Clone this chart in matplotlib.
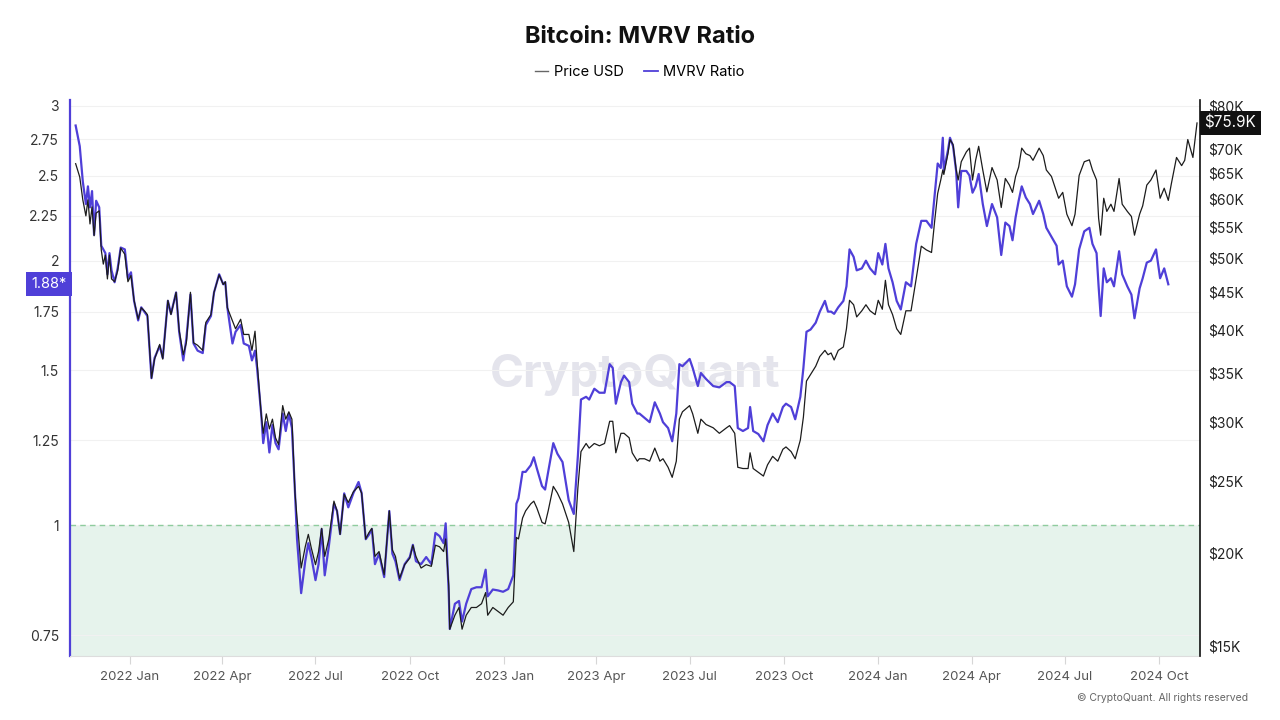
# -*- coding: utf-8 -*-

# Import required libraries
import matplotlib
matplotlib.use('Agg')
import matplotlib.pyplot as plt
import matplotlib.dates as mdates
from matplotlib.lines import Line2D
from matplotlib.ticker import NullLocator
import pandas as pd

# Parameters for the figure
plt.rcParams['font.family'] = ['Inter', 'DejaVu Sans']
plt.rcParams['axes.unicode_minus'] = False

# Colors
purple = '#4f3fd8'
black = '#1c1c1c'

# Data (MVRV stops earlier than price)
dates = [
    '2021-11-09', '2021-11-13', '2021-11-16', '2021-11-19', '2021-11-21', '2021-11-23',
    '2021-11-25', '2021-11-27', '2021-11-29', '2021-12-02', '2021-12-04', '2021-12-06',
    '2021-12-08', '2021-12-10', '2021-12-12', '2021-12-14', '2021-12-17', '2021-12-20',
    '2021-12-23', '2021-12-27', '2021-12-30', '2022-01-02', '2022-01-05', '2022-01-09',
    '2022-01-12', '2022-01-15', '2022-01-18', '2022-01-22', '2022-01-25', '2022-01-30',
    '2022-02-02', '2022-02-07', '2022-02-10', '2022-02-15', '2022-02-18', '2022-02-22',
    '2022-02-25', '2022-03-01', '2022-03-04', '2022-03-08', '2022-03-13', '2022-03-16',
    '2022-03-21', '2022-03-24', '2022-03-29', '2022-04-02', '2022-04-04', '2022-04-06',
    '2022-04-11', '2022-04-14', '2022-04-19', '2022-04-22', '2022-04-27', '2022-04-30',
    '2022-05-03', '2022-05-05', '2022-05-09', '2022-05-11', '2022-05-14', '2022-05-17',
    '2022-05-20', '2022-05-23', '2022-05-26', '2022-05-30', '2022-06-02', '2022-06-05',
    '2022-06-08', '2022-06-11', '2022-06-13', '2022-06-17', '2022-06-21', '2022-06-24',
    '2022-06-27', '2022-07-01', '2022-07-04', '2022-07-07', '2022-07-10', '2022-07-14',
    '2022-07-19', '2022-07-22', '2022-07-25', '2022-07-29', '2022-08-02', '2022-08-07',
    '2022-08-12', '2022-08-15', '2022-08-19', '2022-08-22', '2022-08-25', '2022-08-28',
    '2022-09-01', '2022-09-06', '2022-09-11', '2022-09-14', '2022-09-17', '2022-09-21',
    '2022-09-26', '2022-10-01', '2022-10-04', '2022-10-07', '2022-10-12', '2022-10-17',
    '2022-10-22', '2022-10-26', '2022-10-30', '2022-11-03', '2022-11-05', '2022-11-08',
    '2022-11-09', '2022-11-14', '2022-11-18', '2022-11-21', '2022-11-25', '2022-11-30',
    '2022-12-05', '2022-12-10', '2022-12-14', '2022-12-16', '2022-12-21', '2022-12-26',
    '2022-12-31', '2023-01-05', '2023-01-10', '2023-01-13', '2023-01-15', '2023-01-19',
    '2023-01-22', '2023-01-27', '2023-01-30', '2023-02-02', '2023-02-07', '2023-02-10',
    '2023-02-13', '2023-02-18', '2023-02-22', '2023-02-27', '2023-03-05', '2023-03-10',
    '2023-03-14', '2023-03-17', '2023-03-22', '2023-03-25', '2023-03-30', '2023-04-04',
    '2023-04-09', '2023-04-14', '2023-04-17', '2023-04-20', '2023-04-25', '2023-04-28',
    '2023-05-03', '2023-05-06', '2023-05-11', '2023-05-13', '2023-05-18', '2023-05-23',
    '2023-05-28', '2023-06-02', '2023-06-05', '2023-06-10', '2023-06-14', '2023-06-18',
    '2023-06-21', '2023-06-24', '2023-07-01', '2023-07-04', '2023-07-09', '2023-07-12',
    '2023-07-17', '2023-07-24', '2023-07-30', '2023-08-06', '2023-08-09', '2023-08-14',
    '2023-08-17', '2023-08-22', '2023-08-27', '2023-08-29', '2023-09-01', '2023-09-06',
    '2023-09-11', '2023-09-15', '2023-09-20', '2023-09-25', '2023-09-30', '2023-10-03',
    '2023-10-08', '2023-10-12', '2023-10-17', '2023-10-20', '2023-10-23', '2023-10-27',
    '2023-11-01', '2023-11-05', '2023-11-10', '2023-11-13', '2023-11-16', '2023-11-19',
    '2023-11-23', '2023-11-28', '2023-12-01', '2023-12-04', '2023-12-08', '2023-12-11',
    '2023-12-16', '2023-12-20', '2023-12-24', '2023-12-29', '2024-01-01', '2024-01-05',
    '2024-01-08', '2024-01-11', '2024-01-15', '2024-01-19', '2024-01-23', '2024-01-28',
    '2024-02-02', '2024-02-07', '2024-02-12', '2024-02-17', '2024-02-22', '2024-02-25',
    '2024-02-28', '2024-03-02', '2024-03-04', '2024-03-05', '2024-03-09', '2024-03-11',
    '2024-03-14', '2024-03-17', '2024-03-19', '2024-03-22', '2024-03-27', '2024-03-30',
    '2024-04-02', '2024-04-05', '2024-04-08', '2024-04-12', '2024-04-16', '2024-04-21',
    '2024-04-26', '2024-04-30', '2024-05-04', '2024-05-08', '2024-05-11', '2024-05-14',
    '2024-05-17', '2024-05-20', '2024-05-24', '2024-05-28', '2024-05-31', '2024-06-06',
    '2024-06-10', '2024-06-13', '2024-06-18', '2024-06-23', '2024-06-25', '2024-06-29',
    '2024-07-03', '2024-07-08', '2024-07-11', '2024-07-15', '2024-07-20', '2024-07-25',
    '2024-07-28', '2024-08-01', '2024-08-03', '2024-08-05', '2024-08-08', '2024-08-11',
    '2024-08-15', '2024-08-18', '2024-08-23', '2024-08-26', '2024-08-31', '2024-09-04',
    '2024-09-07', '2024-09-12', '2024-09-15', '2024-09-19', '2024-09-23', '2024-09-28',
    '2024-10-02', '2024-10-06', '2024-10-10', '2024-10-13', '2024-10-18', '2024-10-23',
    '2024-10-26', '2024-10-29', '2024-11-03', '2024-11-07',
]

mvrv = [
    2.85, 2.70, 2.46, 2.32, 2.43, 2.30, 2.40, 2.14, 2.34, 2.30, 2.08, 2.06,
    2.04, 1.93, 2.04, 1.95, 1.89, 1.96, 2.07, 2.06, 1.91, 1.94, 1.80, 1.71,
    1.77, 1.75, 1.73, 1.47, 1.55, 1.60, 1.55, 1.80, 1.74, 1.84, 1.66, 1.54,
    1.63, 1.83, 1.61, 1.58, 1.57, 1.69, 1.73, 1.84, 1.93, 1.88, 1.89, 1.77,
    1.61, 1.66, 1.69, 1.61, 1.60, 1.54, 1.58, 1.51, 1.34, 1.24, 1.31, 1.21,
    1.30, 1.24, 1.22, 1.34, 1.28, 1.34, 1.29, 1.09, 0.964, 0.837, 0.91, 0.954,
    0.92, 0.866, 0.903, 0.99, 0.877, 0.946, 1.058, 1.038, 0.977, 1.087, 1.048, 1.088,
    1.12, 1.088, 0.964, 0.975, 0.99, 0.903, 0.928, 0.873, 1.038, 0.928, 0.91, 0.866,
    0.903, 0.92, 0.95, 0.91, 0.903, 0.92, 0.903, 0.98, 0.972, 0.954, 1.005, 0.837,
    0.762, 0.814, 0.82, 0.777, 0.814, 0.846, 0.85, 0.85, 0.89, 0.83, 0.845, 0.843,
    0.84, 0.846, 0.877, 1.058, 1.073, 1.15, 1.15, 1.17, 1.195, 1.16, 1.108, 1.098,
    1.15, 1.24, 1.206, 1.18, 1.068, 1.03, 1.20, 1.39, 1.40, 1.39, 1.43, 1.415,
    1.415, 1.525, 1.51, 1.375, 1.455, 1.48, 1.455, 1.375, 1.34, 1.34, 1.325, 1.31,
    1.38, 1.34, 1.31, 1.29, 1.246, 1.34, 1.525, 1.517, 1.546, 1.51, 1.44, 1.49,
    1.467, 1.44, 1.435, 1.455, 1.455, 1.44, 1.29, 1.28, 1.29, 1.363, 1.28, 1.27,
    1.246, 1.30, 1.34, 1.31, 1.363, 1.375, 1.363, 1.32, 1.40, 1.51, 1.66, 1.67,
    1.70, 1.75, 1.80, 1.75, 1.75, 1.74, 1.77, 1.80, 1.87, 2.06, 2.02, 1.95,
    1.96, 2.00, 1.96, 1.93, 2.04, 1.98, 2.09, 1.96, 1.89, 1.80, 1.76, 1.89,
    1.87, 2.09, 2.22, 2.22, 2.18, 2.37, 2.58, 2.55, 2.76, 2.53, 2.67, 2.76,
    2.70, 2.53, 2.30, 2.53, 2.53, 2.50, 2.39, 2.43, 2.51, 2.32, 2.19, 2.32,
    2.24, 2.03, 2.21, 2.19, 2.11, 2.24, 2.34, 2.43, 2.36, 2.32, 2.26, 2.34,
    2.26, 2.18, 2.13, 2.08, 1.98, 2.00, 1.87, 1.82, 1.88, 2.06, 2.16, 2.18,
    2.09, 2.04, 1.87, 1.73, 1.96, 1.89, 1.91, 1.87, 2.05, 1.93, 1.87, 1.83,
    1.72, 1.86, 1.91, 1.99, 2.00, 2.06, 1.91, 1.96, 1.88,
]

# Price in thousands of USD
price_k = [
    66.9, 64.2, 59.8, 56.9, 59.8, 55.5, 58.5, 53.5, 57.4, 57.8, 51.2, 49.0,
    50.4, 46.8, 50.4, 46.8, 46.4, 48.0, 51.5, 50.5, 46.4, 47.3, 43.8, 41.3,
    42.8, 42.4, 41.9, 34.4, 36.5, 38.2, 36.5, 43.8, 41.9, 44.9, 39.9, 37.0,
    38.4, 44.9, 38.4, 38.1, 37.5, 40.9, 41.9, 44.9, 47.4, 46.0, 46.4, 42.8,
    41.1, 40.1, 41.3, 39.4, 39.4, 37.5, 39.8, 36.2, 30.8, 29.0, 30.8, 29.4,
    30.3, 28.6, 28.0, 31.6, 30.3, 31.0, 30.3, 24.1, 22.3, 19.1, 20.4, 21.2,
    20.3, 19.3, 20.1, 21.6, 19.8, 20.9, 23.5, 22.8, 21.2, 24.0, 23.4, 24.2,
    24.6, 24.1, 20.9, 21.3, 21.6, 19.8, 20.1, 18.7, 22.8, 20.2, 19.8, 18.5,
    19.3, 19.7, 20.5, 19.8, 19.1, 19.3, 19.2, 20.5, 20.4, 20.1, 20.9, 18.1,
    15.8, 16.5, 16.9, 15.8, 16.5, 16.9, 16.9, 17.1, 17.7, 16.5, 16.9, 16.7,
    16.5, 16.9, 17.2, 21.0, 20.9, 22.3, 22.8, 23.3, 23.5, 23.0, 22.0, 21.9,
    22.8, 24.6, 24.1, 23.3, 22.0, 20.1, 24.5, 27.4, 28.1, 27.7, 28.1, 27.9,
    28.1, 30.1, 30.1, 27.3, 29.0, 29.0, 28.6, 27.3, 26.6, 26.8, 26.8, 26.6,
    27.7, 26.6, 26.8, 26.1, 25.3, 26.6, 30.3, 31.0, 31.6, 30.8, 29.0, 30.3,
    29.8, 29.5, 29.0, 29.5, 29.7, 29.0, 26.1, 26.0, 26.0, 27.3, 26.0, 25.7,
    25.4, 26.3, 27.0, 26.6, 27.6, 27.8, 27.4, 26.8, 28.4, 30.5, 34.1, 34.8,
    35.7, 36.8, 37.5, 37.0, 37.2, 36.4, 37.5, 37.9, 40.1, 43.8, 43.2, 41.6,
    42.4, 43.2, 42.4, 41.9, 43.8, 42.6, 46.6, 43.2, 41.9, 40.1, 39.4, 42.4,
    42.4, 46.8, 51.8, 51.2, 50.8, 55.9, 61.0, 63.6, 65.6, 64.7, 69.0, 72.1,
    71.0, 65.7, 63.6, 67.3, 69.4, 70.2, 63.6, 67.6, 70.6, 65.6, 61.3, 66.1,
    63.6, 58.4, 63.9, 62.6, 61.2, 64.3, 66.2, 70.2, 69.0, 68.6, 67.6, 70.2,
    68.6, 65.6, 64.3, 61.3, 60.1, 61.2, 57.2, 55.2, 57.2, 64.5, 67.3, 67.7,
    65.6, 63.6, 56.5, 53.6, 60.1, 57.7, 59.0, 57.7, 63.9, 59.0, 57.7, 56.8,
    53.6, 57.2, 58.7, 62.6, 63.6, 65.6, 60.1, 62.0, 59.7, 62.9, 68.2, 66.5,
    67.6, 72.1, 68.2, 75.9,
]

# Axis ticks
mvrv_ticks = [0.75, 1, 1.25, 1.5, 1.75, 2, 2.25, 2.5, 2.75, 3]
mvrv_tick_labels = ['0.75', '1', '1.25', '1.5', '1.75', '2', '2.25', '2.5', '2.75', '3']
price_ticks = [15, 20, 25, 30, 35, 40, 45, 50, 55, 60, 65, 70, 80]
price_tick_labels = ['$%dK' % t for t in price_ticks]

dates = pd.to_datetime(dates)

fig = plt.figure(figsize=(12.8, 7.2), dpi=100)
ax = fig.add_axes([70 / 1280, 64 / 720, 1130 / 1280, 556 / 720])

# Left axis: MVRV (log scale)
ax.set_yscale('log')
ax.set_ylim(0.7099, 3.047)
ax.set_xlim(pd.Timestamp('2021-11-03 12:00'), pd.Timestamp('2024-11-09 22:00'))
ax.axhspan(0.7099, 1.0, color='#e6f3ec', zorder=0, lw=0)
ax.axhline(1.0, color='#8fcc9e', ls=(0, (4, 3)), lw=1.0, zorder=1)
ax.plot(dates[:len(mvrv)], mvrv, color=purple, lw=1.6, zorder=3)

ax.set_yticks(mvrv_ticks, mvrv_tick_labels)
ax.yaxis.set_minor_locator(NullLocator())
ax.tick_params(axis='y', length=0, pad=8, labelsize=10, labelcolor='#333333')
ax.grid(axis='y', color='#f1f1f1', lw=0.8)
ax.set_axisbelow(True)

ax.xaxis.set_major_locator(mdates.MonthLocator(bymonth=[1, 4, 7, 10]))
ax.xaxis.set_major_formatter(mdates.DateFormatter('%Y %b'))
ax.tick_params(axis='x', length=6, color='#d6d6d6', pad=5, labelsize=9.5,
               labelcolor='#555555')

ax.spines['top'].set_visible(False)
ax.spines['right'].set_visible(False)
ax.spines['bottom'].set_color('#dddddd')
ax.spines['left'].set_color(purple)
ax.spines['left'].set_linewidth(1.6)

# Watermark
ax.text(0.5, 0.505, 'CryptoQuant', transform=ax.transAxes, fontsize=33,
        fontweight='bold', color='#e4e4ec', ha='center', va='center', zorder=0.5)

# Right axis: price (log scale)
ax2 = ax.twinx()
ax2.set_yscale('log')
ax2.set_ylim(14.54, 81.5)
ax2.plot(dates, price_k, color=black, lw=0.9, zorder=4)
ax2.set_yticks(price_ticks, price_tick_labels)
ax2.yaxis.set_minor_locator(NullLocator())
ax2.tick_params(axis='y', length=0, pad=6, labelsize=10, labelcolor='#222222')
for side in ['top', 'left', 'bottom']:
    ax2.spines[side].set_visible(False)
ax2.spines['right'].set_color('#111111')
ax2.spines['right'].set_linewidth(1.2)

# Last-value badges
ax.text(-0.003, mvrv[-1], '%.2f*' % mvrv[-1], transform=ax.get_yaxis_transform(),
        ha='right', va='center', fontsize=10.5, color='white', zorder=10,
        bbox=dict(boxstyle='square,pad=0.35', fc=purple, ec='none'),
        clip_on=False)
ax2.text(1.004, price_k[-1], '$%.1fK' % price_k[-1], transform=ax2.get_yaxis_transform(),
         ha='left', va='center', fontsize=11, color='white', zorder=10,
         bbox=dict(boxstyle='square,pad=0.3', fc='#111111', ec='none'),
         clip_on=False)

# Title and legend
fig.text(0.5, 1 - 37 / 720, 'Bitcoin: MVRV Ratio', ha='center', va='center',
         fontsize=17, fontweight='bold', color='#111111')
handles = [Line2D([], [], color='#666666', lw=1.0),
           Line2D([], [], color=purple, lw=1.3)]
fig.legend(handles, ['Price USD', 'MVRV Ratio'], loc='center',
           bbox_to_anchor=(0.5, 1 - 72 / 720), ncol=2, frameon=False,
           fontsize=10.5, handlelength=0.9, handletextpad=0.4, columnspacing=1.4)

# Footer
fig.text(1248 / 1280, 1 - 698 / 720, '\u00a9 CryptoQuant. All rights reserved',
         ha='right', va='center', fontsize=7.5, color='#666666')

fig.savefig('out.png', dpi=100)
